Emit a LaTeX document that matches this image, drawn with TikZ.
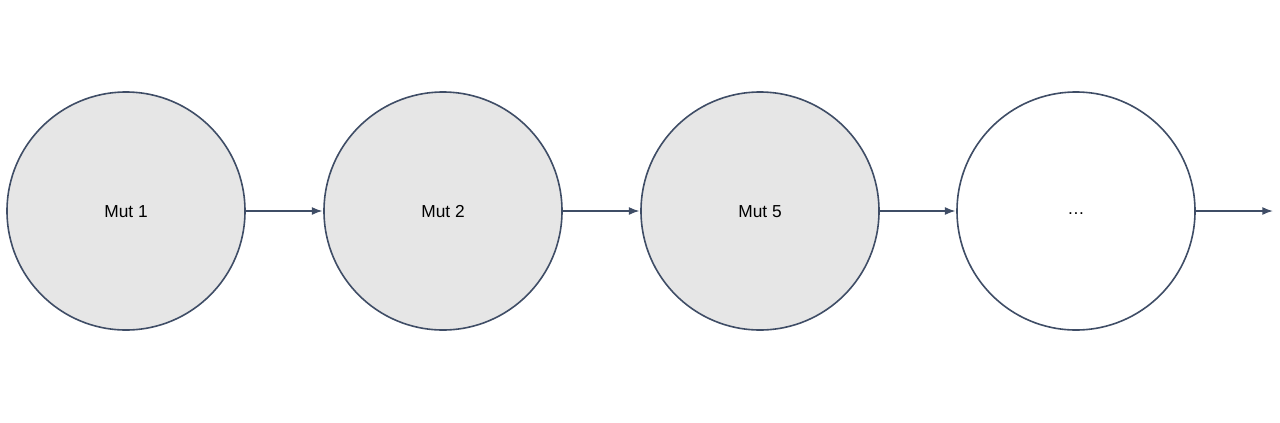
\documentclass[tikz,border=0pt]{standalone}
\usepackage{fontspec}
\setmainfont{Liberation Sans}
\usetikzlibrary{arrows.meta}
\definecolor{edge}{HTML}{3F4D66}
\definecolor{fillg}{HTML}{E6E6E6}
\newcommand{\lbl}[2]{\raisebox{#1}[0pt][0pt]{#2}}
\begin{document}
\begin{tikzpicture}[x=0.75pt,y=-0.75pt,
  mut/.style={circle,draw=edge,line width=1.2pt,minimum size=238*0.75pt,inner sep=0pt,font=\fontsize{13}{15}\selectfont},
  conn/.style={draw=edge,line width=1.2pt,-{Latex[length=8pt,width=6pt]},shorten >=0.5pt}]
\useasboundingbox (0,0) rectangle (1280,422);
\node[mut,fill=fillg] (m1) at (126,211) {\lbl{-5.2pt}{Mut 1}};
\node[mut,fill=fillg] (m2) at (443,211) {\lbl{-5.2pt}{Mut 2}};
\node[mut,fill=fillg] (m5) at (760,211) {\lbl{-5.2pt}{Mut 5}};
\node[mut,fill=white] (d) at (1076,211) {\lbl{-2.8pt}{\ldots}};
\coordinate (end) at (1273,211);
\draw[conn] (m1) -- (m2);
\draw[conn] (m2) -- (m5);
\draw[conn] (m5) -- (d);
\draw[conn,shorten >=0pt] (d) -- (end);
\end{tikzpicture}
\end{document}
